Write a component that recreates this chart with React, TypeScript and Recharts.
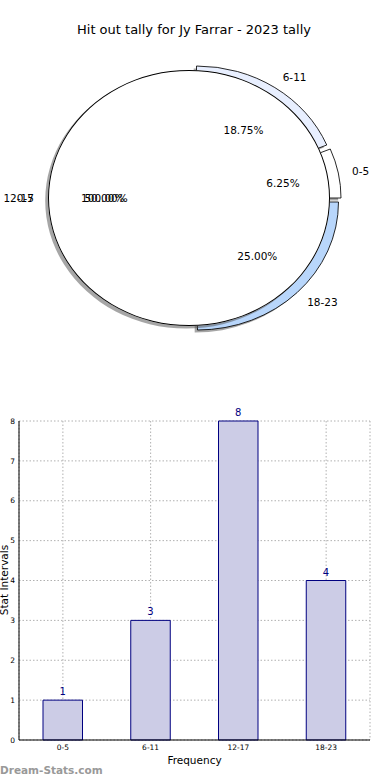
import React from 'react';
import {
  PieChart,
  Pie,
  Cell,
  BarChart,
  Bar,
  XAxis,
  YAxis,
  CartesianGrid,
  LabelList,
} from 'recharts';

// data
const categories = ['0-5', '6-11', '12-17', '18-23'];
const counts = [1, 3, 8, 4];
const overlayCategories = ['0-5'];
const overlayCounts = [1];
const yTicks = [0, 1, 2, 3, 4, 5, 6, 7, 8];

// pie look
const wedgeColors = ['#ffffff', '#e8efff', '#ffffff', '#b8d6fb'];
const explodeX = [11, 7.5, 0, 8.5];
const explodeY = [0, -4, 0, 4];
const SX = 141 / 128; // the pie is drawn as an ellipse
const CX = 189;
const CY = 198;
const R = 128;
const RAD = Math.PI / 180;
const FONT = '"DejaVu Sans", Verdana, sans-serif';

const pieData = categories.map((name, i) => ({ name, value: counts[i] }));
const overlayData = overlayCategories.map((name, i) => ({ name, value: overlayCounts[i] }));
const barData = categories.map((name, i) => ({ name, value: counts[i] }));

const pct = (v: number, list: number[]) =>
  `${((v / list.reduce((a, b) => a + b, 0)) * 100).toFixed(2)}%`;

const makeLabel = (names: string[], values: number[], shiftX: number[], shiftY: number[]) =>
  (props: any) => {
    const { cx, cy, midAngle, outerRadius, index } = props;
    const c = Math.cos(-midAngle * RAD);
    const s = Math.sin(-midAngle * RAD);
    const dx = (shiftX[index] || 0) / SX;
    const dy = shiftY[index] || 0;
    const x1 = cx + dx + 1.1 * outerRadius * c;
    const y1 = cy + dy + 1.1 * outerRadius * s;
    const x2 = cx + dx + 0.6 * outerRadius * c;
    const y2 = cy + dy + 0.6 * outerRadius * s;
    return (
      <g key={`lbl-${index}`}>
        <g transform={`translate(${x1},${y1}) scale(${1 / SX},1)`}>
          <text x={0} y={0} textAnchor={c > 0 ? 'start' : 'end'} dominantBaseline="central"
            fontSize={10.5} fontFamily={FONT} fill="#000">{names[index]}</text>
        </g>
        <g transform={`translate(${x2},${y2}) scale(${1 / SX},1)`}>
          <text x={0} y={0} textAnchor="middle" dominantBaseline="central"
            fontSize={10.5} fontFamily={FONT} fill="#000">{pct(values[index], values)}</text>
        </g>
      </g>
    );
  };

const wedgeLabel = makeLabel(categories, counts, explodeX, explodeY);
const overlayLabel = makeLabel(overlayCategories, overlayCounts, [0], [0]);

const App: React.FC = () => {
  const shadowDx = -2.8 / SX;
  const shadowDy = 2.6;

  return (
    <div style={{ position: 'absolute', left: 0, top: 0, width: 390, height: 780, background: '#fff', fontFamily: FONT }}>
      <div style={{ position: 'absolute', left: 0, top: 21, width: 388, textAlign: 'center', fontSize: 13, lineHeight: '18px', color: '#000' }}>
        Hit out tally for Jy Farrar - 2023 tally
      </div>

      <div style={{ position: 'absolute', left: 0, top: 0, width: 390, height: 370, transform: `scaleX(${SX})`, transformOrigin: `${CX}px 0px` }}>
        <PieChart width={390} height={370} margin={{ top: 0, right: 0, bottom: 0, left: 0 }}>
          {pieData.map((_, i) =>
            i === 2 ? null : (
              [
                <Pie key={`sh-${i}`} data={pieData} dataKey="value" cx={CX + explodeX[i] / SX + shadowDx} cy={CY + explodeY[i] + shadowDy}
                  outerRadius={R} startAngle={0} endAngle={360} isAnimationActive={false} labelLine={false} label={false}>
                  {pieData.map((d, j) => (
                    <Cell key={d.name} fill={j === i ? '#4d4d4d' : 'none'} fillOpacity={0.5} stroke="none" />
                  ))}
                </Pie>,
                <Pie key={`w-${i}`} data={pieData} dataKey="value" cx={CX + explodeX[i] / SX} cy={CY + explodeY[i]}
                  outerRadius={R} startAngle={0} endAngle={360} isAnimationActive={false} labelLine={false} label={false}>
                  {pieData.map((d, j) => (
                    <Cell key={d.name} fill={j === i ? wedgeColors[i] : 'none'} stroke={j === i ? '#000' : 'none'} strokeWidth={0.8} />
                  ))}
                </Pie>,
              ]
            )
          )}
          {/* full overlay pie */}
          <Pie data={overlayData} dataKey="value" cx={CX + shadowDx} cy={CY + shadowDy} outerRadius={R}
            startAngle={0} endAngle={360} isAnimationActive={false} labelLine={false} label={false}>
            {overlayData.map((d) => <Cell key={d.name} fill="#4d4d4d" fillOpacity={0.5} stroke="none" />)}
          </Pie>
          <Pie data={overlayData} dataKey="value" cx={CX} cy={CY} outerRadius={R}
            startAngle={0} endAngle={360} isAnimationActive={false} labelLine={false} label={false}>
            {overlayData.map((d) => <Cell key={d.name} fill="#ffffff" stroke="none" />)}
          </Pie>
          <Pie data={overlayData} dataKey="value" cx={CX} cy={CY} innerRadius={R - 0.9} outerRadius={R}
            startAngle={0} endAngle={360} isAnimationActive={false} labelLine={false} label={overlayLabel}>
            {overlayData.map((d) => <Cell key={d.name} fill="#000" stroke="none" />)}
          </Pie>
          {/* labels of the tally wedges */}
          <Pie data={pieData} dataKey="value" cx={CX} cy={CY} outerRadius={R}
            startAngle={0} endAngle={360} isAnimationActive={false} labelLine={false} label={wedgeLabel}>
            {pieData.map((d) => <Cell key={d.name} fill="none" stroke="none" />)}
          </Pie>
        </PieChart>
      </div>

      <div style={{ position: 'absolute', left: 0, top: 400 }}>
        <BarChart width={390} height={380} data={barData} margin={{ top: 21, right: 20, bottom: 0, left: 0 }}>
          <CartesianGrid stroke="#b0b0b0" strokeDasharray="1.5 2" />
          <XAxis dataKey="name" interval={0} height={40} tickLine={false} tickSize={3}
            axisLine={{ stroke: '#000' }} tick={{ fontSize: 7.5, fill: '#000', fontFamily: FONT }}
            label={{
              content: () => (
                <text x={194.5} y={360} textAnchor="middle" dominantBaseline="central" fontSize={10.5} fontFamily={FONT} fill="#000">
                  Frequency
                </text>
              ),
            }} />
          <XAxis xAxisId="top" dataKey="name" orientation="top" height={0} tick={false} tickLine={false} axisLine={{ stroke: '#000' }} />
          <YAxis domain={[0, 8]} ticks={yTicks} width={19} tickLine={false} tickSize={2}
            axisLine={{ stroke: '#000' }} tick={{ fontSize: 7.5, fill: '#000', fontFamily: FONT }}
            label={{
              content: () => (
                <text transform="translate(8,180) rotate(-90)" textAnchor="middle" fontSize={10.5} fontFamily={FONT} fill="#000">
                  Stat Intervals
                </text>
              ),
            }} />
          <YAxis yAxisId="right" orientation="right" domain={[0, 8]} width={0} tick={false} tickLine={false} axisLine={{ stroke: '#000' }} />
          <Bar dataKey="value" fill="#ccccE6" stroke="#000080" strokeWidth={1} barSize={39.5} isAnimationActive={false}>
            <LabelList dataKey="value" position="top" offset={5} fontSize={10} fill="#000080" fontFamily={FONT} />
          </Bar>
        </BarChart>
      </div>

      <div style={{ position: 'absolute', left: 0, top: 762, fontSize: 10.5, fontWeight: 'bold', color: '#999', lineHeight: '16px' }}>
        Dream-Stats.com
      </div>
    </div>
  );
};

export default App;
